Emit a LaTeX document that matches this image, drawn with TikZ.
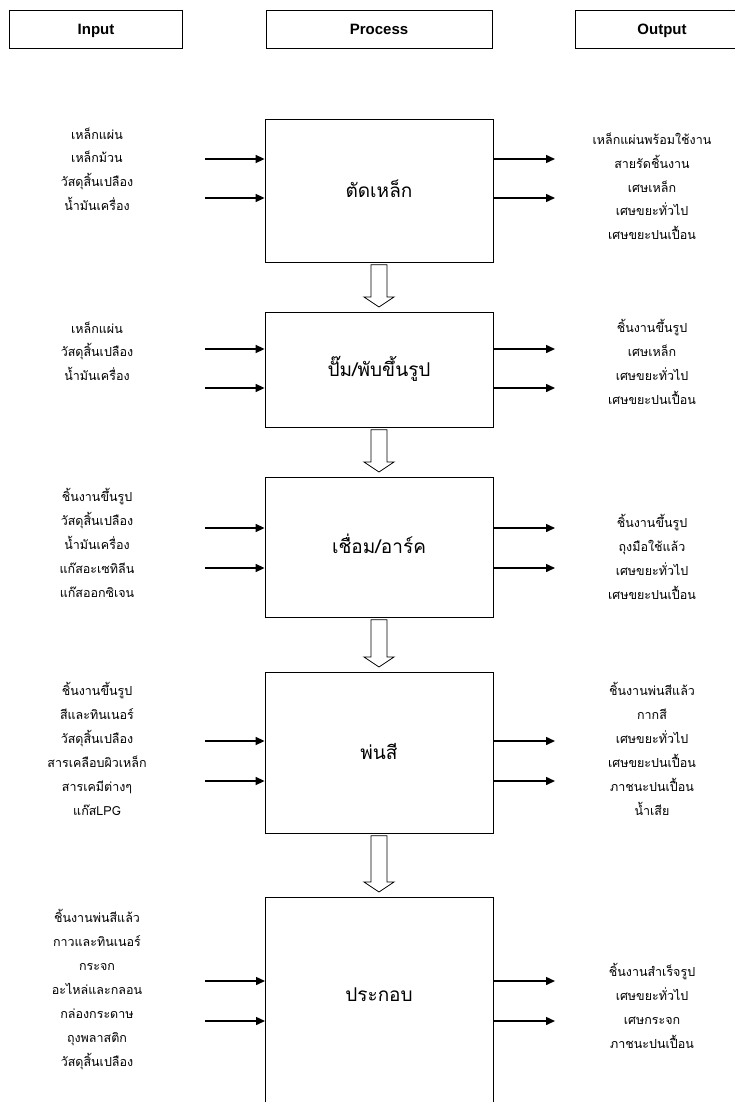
\documentclass[tikz,border=0pt]{standalone}
\usepackage{fontspec}
\setmainfont[Script=Thai]{Loma}
\newfontfamily\hdrfont{Liberation Sans}
\usetikzlibrary{arrows.meta,calc}
\begin{document}
\begin{tikzpicture}[x=1pt,y=-1pt,
  hdr/.style={draw, line width=0.8pt, minimum width=173pt, minimum height=38pt, font=\hdrfont\fontsize{15}{17}\selectfont\bfseries, inner sep=0pt, text height=12pt, text depth=0pt},
  proc/.style={draw, line width=0.8pt, minimum width=228pt, inner sep=0pt, font=\fontsize{19}{21}\selectfont, anchor=north, text height=14pt, text depth=1pt},
  ptext/.style={font=\fontsize{19}{21}\selectfont, inner sep=0pt, text height=14pt, text depth=1pt},
  itm/.style={font=\fontsize{12.5}{14}\selectfont, inner sep=0pt, text height=12pt, text depth=1pt},
  flow/.style={line width=1.5pt, -{Triangle[length=9pt,width=8pt]}},
  hollow/.style={draw, line width=0.8pt, fill=white}]
\useasboundingbox (0,0) rectangle (735,1102);
% headers
\node[hdr] (hin) at (96,29) {Input};
\node[hdr, minimum width=226pt] (hpr) at (379,29) {Process};
\begin{scope}
\clip (0,0) rectangle (735,1102);
\node[hdr] (hout) at (662,29) {Output};
\end{scope}
% process boxes
\node[proc, minimum height=143pt] (p1) at (379,119) {ตัดเหล็ก};
\node[proc, minimum height=115pt] (p2) at (379,312) {ปั๊ม/พับขึ้นรูป};
\node[proc, minimum height=140pt] (p3) at (379,477) {เชื่อม/อาร์ค};
\node[proc, minimum height=161pt] (p4) at (379,672) {พ่นสี};
\begin{scope}
\clip (0,0) rectangle (735,1102);
\node[proc, minimum height=215pt] (p5) at (379,897) {};
\end{scope}
\node[ptext] (p5t) at (379,995) {ประกอบ};
% hollow arrows between boxes
\foreach \a/\b [count=\i] in {p1/p2,p2/p3,p3/p4,p4/p5}{
  \path ($(\a.south)+(0,2)$) coordinate (s\i) ($(\b.north)+(0,-5)$) coordinate (t\i);
  \draw[hollow] ($(s\i)+(-8,0)$) -- ($(s\i)+(8,0)$) -- ($(t\i)+(8,-10)$) -- ($(t\i)+(15,-10)$) -- (t\i) -- ($(t\i)+(-15,-10)$) -- ($(t\i)+(-8,-10)$) -- cycle;
}
% flow arrows
\foreach \p/\ya/\yb in {p1/159/198,p2/349/388,p3/528/568,p4/741/781}{
  \coordinate (la\p) at (205,\ya); \coordinate (lb\p) at (205,\yb);
  \coordinate (ra\p) at (555,\ya); \coordinate (rb\p) at (555,\yb);
  \draw[flow] (la\p) -- (\p.west |- la\p);
  \draw[flow] (lb\p) -- (\p.west |- lb\p);
  \draw[flow] (\p.east |- ra\p) -- (ra\p);
  \draw[flow] (\p.east |- rb\p) -- (rb\p);
}
\coordinate (lap5) at (205,981); \coordinate (lbp5) at (205,1021);
\coordinate (rap5) at (555,981); \coordinate (rbp5) at (555,1021);
\coordinate (p5w) at (265,981); \coordinate (p5e) at (493,981);
\draw[flow] (lap5) -- (p5w |- lap5);
\draw[flow] (lbp5) -- (p5w |- lbp5);
\draw[flow] (p5e |- rap5) -- (rap5);
\draw[flow] (p5e |- rbp5) -- (rbp5);
% input texts
\node[itm] (i11) at (97,134) {เหล็กแผ่น};
\node[itm] (i12) at (97,157) {เหล็กม้วน};
\node[itm] (i13) at (97,181) {วัสดุสิ้นเปลือง};
\node[itm] (i14) at (97,205) {น้ำมันเครื่อง};
\node[itm] (i21) at (97,328) {เหล็กแผ่น};
\node[itm] (i22) at (97,351) {วัสดุสิ้นเปลือง};
\node[itm] (i23) at (97,375) {น้ำมันเครื่อง};
\node[itm] (i31) at (97,496) {ชิ้นงานขึ้นรูป};
\node[itm] (i32) at (97,520) {วัสดุสิ้นเปลือง};
\node[itm] (i33) at (97,544) {น้ำมันเครื่อง};
\node[itm] (i34) at (97,568) {แก๊สอะเซทิลีน};
\node[itm] (i35) at (97,592) {แก๊สออกซิเจน};
\node[itm] (i41) at (97,690) {ชิ้นงานขึ้นรูป};
\node[itm] (i42) at (97,714) {สีและทินเนอร์};
\node[itm] (i43) at (97,738) {วัสดุสิ้นเปลือง};
\node[itm] (i44) at (97,762) {สารเคลือบผิวเหล็ก};
\node[itm] (i45) at (97,786) {สารเคมีต่างๆ};
\node[itm] (i46) at (97,810) {แก๊สLPG};
\node[itm] (i51) at (97,917) {ชิ้นงานพ่นสีแล้ว};
\node[itm] (i52) at (97,941) {กาวและทินเนอร์};
\node[itm] (i53) at (97,965) {กระจก};
\node[itm] (i54) at (97,989) {อะไหล่และกลอน};
\node[itm] (i55) at (97,1013) {กล่องกระดาษ};
\node[itm] (i56) at (97,1037) {ถุงพลาสติก};
\node[itm] (i57) at (97,1061) {วัสดุสิ้นเปลือง};
% output texts
\node[itm] (o11) at (652,139) {เหล็กแผ่นพร้อมใช้งาน};
\node[itm] (o12) at (652,163) {สายรัดชิ้นงาน};
\node[itm] (o13) at (652,187) {เศษเหล็ก};
\node[itm] (o14) at (652,210) {เศษขยะทั่วไป};
\node[itm] (o15) at (652,234) {เศษขยะปนเปื้อน};
\node[itm] (o21) at (652,327) {ชิ้นงานขึ้นรูป};
\node[itm] (o22) at (652,351) {เศษเหล็ก};
\node[itm] (o23) at (652,375) {เศษขยะทั่วไป};
\node[itm] (o24) at (652,399) {เศษขยะปนเปื้อน};
\node[itm] (o31) at (652,522) {ชิ้นงานขึ้นรูป};
\node[itm] (o32) at (652,546) {ถุงมือใช้แล้ว};
\node[itm] (o33) at (652,570) {เศษขยะทั่วไป};
\node[itm] (o34) at (652,594) {เศษขยะปนเปื้อน};
\node[itm] (o41) at (652,690) {ชิ้นงานพ่นสีแล้ว};
\node[itm] (o42) at (652,714) {กากสี};
\node[itm] (o43) at (652,738) {เศษขยะทั่วไป};
\node[itm] (o44) at (652,762) {เศษขยะปนเปื้อน};
\node[itm] (o45) at (652,786) {ภาชนะปนเปื้อน};
\node[itm] (o46) at (652,810) {น้ำเสีย};
\node[itm] (o51) at (652,971) {ชิ้นงานสำเร็จรูป};
\node[itm] (o52) at (652,995) {เศษขยะทั่วไป};
\node[itm] (o53) at (652,1019) {เศษกระจก};
\node[itm] (o54) at (652,1043) {ภาชนะปนเปื้อน};
\end{tikzpicture}
\end{document}
